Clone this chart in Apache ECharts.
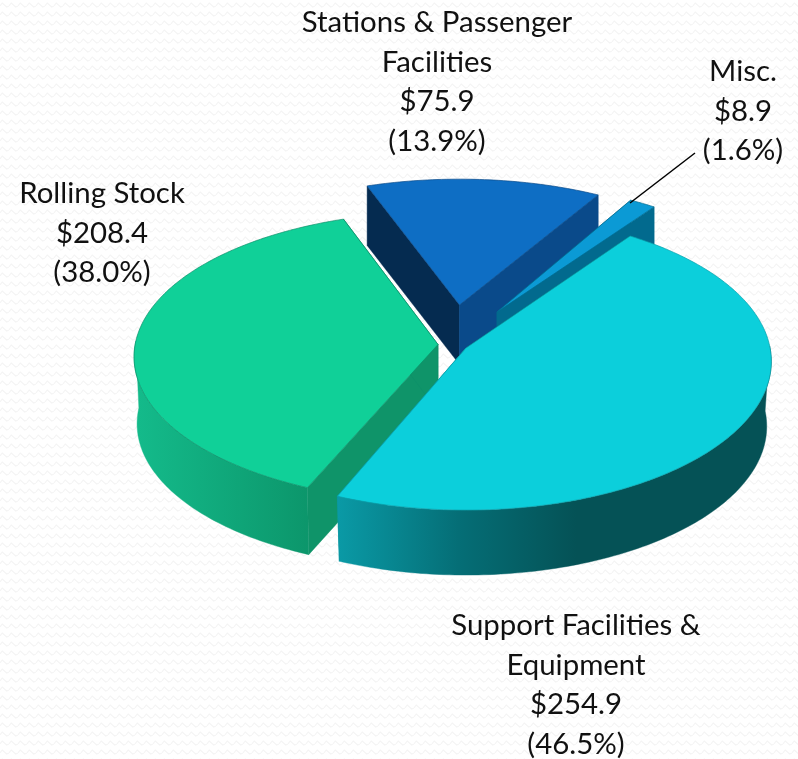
<!DOCTYPE html>
<html>
<head>
<meta charset="utf-8">
<style>html,body{margin:0;padding:0;background:#fff}#c{width:798px;height:759px}</style>
<script src="https://cdn.jsdelivr.net/npm/echarts@6/dist/echarts.min.js"></script>
</head>
<body>
<div id="c"></div>
<script>
// ---- data ----
var categories = ['Support Facilities &\nEquipment', 'Rolling Stock', 'Stations & Passenger\nFacilities', 'Misc.'];
var values = [254.9, 208.4, 75.9, 8.9];
var valueLabels = ['$254.9', '$208.4', '$75.9', '$8.9'];
var shareLabels = ['(46.5%)', '(38.0%)', '(13.9%)', '(1.6%)'];

// ---- layout and style, separate from the data ----
var START_ANGLE = -54, RX = 305, RY = 147.5;
var sliceLayout = [
  {x: 466, y: 348, k: .09, sx: .997, sy: 1, h: 65, shrink: .985, order: 3, spin: -.6},
  {x: 438, y: 344.5, k: .085, sx: .993, sy: .975, h: 67, shrink: .99, order: 2, spin: 0},
  {x: 459.5, y: 305, k: .09, sx: .975, sy: .93, h: 59.5, shrink: 1, order: 0, spin: 0},
  {x: 497, y: 312, k: .09, sx: .94, sy: .945, h: 55, shrink: 1, order: 1, spin: 0}
];
var sliceStyle = [
  {top: '#0ccfdb', edge: '#0aa0ab', start: '#055256', end: '#055256',
   wall: [[0, '#0a9aa6'], [.28, '#056e76'], [.55, '#055256'], [1, '#055256']]},
  {top: '#10d098', edge: '#0c8f68', start: '#0f9469', end: '#0f9469',
   wall: [[0, '#14bb8b'], [1, '#0c966b']]},
  {top: '#0e6ec4', edge: '#0a4a8a', start: '#052b50', end: '#0a4a8a',
   wall: [[0, '#0a4a8a'], [1, '#0a4a8a']]},
  {top: '#0b9ad5', edge: '#026a8e', start: '#026a8e', end: '#026a8e',
   wall: [[0, '#026a8e'], [1, '#026a8e']]}
];
var labelBoxes = [
  {x: 576, y: 606}, {x: 102, y: 174}, {x: 437, y: 3}, {x: 743, y: 52}
];
var LEADER = [[630, 203], [695, 153]];
var LABEL_FONT = '29.4px Lato, "Open Sans", sans-serif';

var total = values.reduce(function (a, b) { return a + b; }, 0);
function startAngleOf(i) {
  var s = 0;
  for (var j = 0; j < i; j++) s += values[j];
  return START_ANGLE + s / total * 360;
}
function project(s, deg) {
  var t = deg * Math.PI / 180, u = Math.cos(t), v = Math.sin(t), w = 1 - s.k * v;
  return [s.x + s.sx * RX * u / w, s.y + s.sy * RY * v / w];
}
function drop(s, p) {
  return [s.x + (p[0] - s.x) * s.shrink, p[1] + s.h];
}
function poly(points, fill, stroke, z2) {
  return {type: 'polygon', shape: {points: points}, z2: z2,
    style: {fill: fill, stroke: stroke || fill, lineWidth: stroke ? .7 : .4, lineJoin: 'round'}};
}

function renderSlice(params, api) {
  var i = params.dataIndex, v = api.value(0);
  var s = sliceLayout[i], c = sliceStyle[i];
  var a0 = startAngleOf(i) + s.spin, a1 = a0 + v / total * 360;
  var arc = [], front = [], steps = Math.max(4, Math.ceil(a1 - a0));
  for (var n = 0; n <= steps; n++) {
    var a = a0 + (a1 - a0) * n / steps, p = project(s, a);
    arc.push(p);
    // only the part of the rim that faces the viewer has a visible wall
    if (Math.sin(a * Math.PI / 180) >= -0.03) front.push(p);
  }
  var apex = [s.x, s.y], first = arc[0], last = arc[arc.length - 1];
  var base = s.order * 10;
  var grad = new echarts.graphic.LinearGradient(0, 0, 1, 0,
    c.wall.map(function (w) { return {offset: w[0], color: w[1]}; }));
  var children = [
    poly([apex, first, drop(s, first), drop(s, apex)], c.start, null, base + 1),
    poly([apex, last, drop(s, last), drop(s, apex)], c.end, c.edge, base + 2)
  ];
  if (front.length > 1) {
    children.push(poly(front.concat(front.map(function (p) { return drop(s, p); }).reverse()), grad, null, base + 3));
  }
  children.push(poly([apex].concat(arc), c.top, c.edge, base + 4));
  children.push({type: 'text', z2: 100, style: {
    x: labelBoxes[i].x, y: labelBoxes[i].y,
    text: [categories[i], valueLabels[i], shareLabels[i]].join('\n'),
    align: 'center', verticalAlign: 'top',
    font: LABEL_FONT, lineHeight: 39.5, fill: '#111'
  }});
  return {type: 'group', children: children};
}

// faint zig-zag wallpaper of the slide
var tile = document.createElement('canvas');
tile.width = 9; tile.height = 9;
var g = tile.getContext('2d');
g.fillStyle = '#fff'; g.fillRect(0, 0, 9, 9);
g.strokeStyle = '#f4f4f4'; g.lineWidth = 1.1;
g.beginPath(); g.moveTo(0, 6); g.lineTo(2.25, 3); g.lineTo(6.75, 7); g.lineTo(9, 6); g.stroke();

var chart = echarts.init(document.getElementById('c'), null, {renderer: 'canvas'});
chart.setOption({
  animation: false,
  backgroundColor: {image: tile, repeat: 'repeat'},
  graphic: [{type: 'polyline', z: 5, shape: {points: LEADER}, style: {stroke: '#000', lineWidth: 1.5, fill: null}}],
  series: [{
    type: 'custom',
    coordinateSystem: 'none',
    renderItem: renderSlice,
    data: values.map(function (v, i) { return {name: categories[i], value: [v]}; }),
    silent: true,
    z: 2
  }]
});
</script>
</body>
</html>
